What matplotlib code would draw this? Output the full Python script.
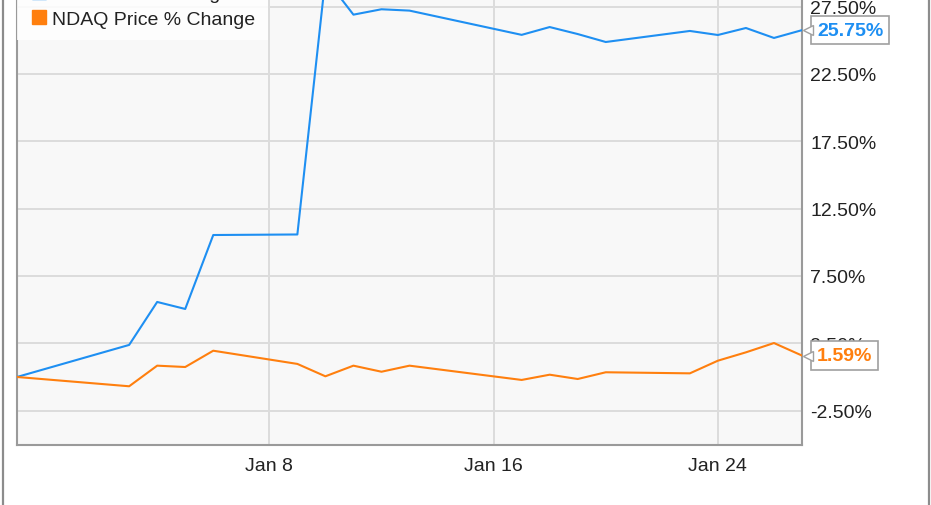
import matplotlib
matplotlib.use("Agg")
import matplotlib.pyplot as plt
import matplotlib.dates as mdates
import matplotlib.transforms as mtransforms
from matplotlib.lines import Line2D
import pandas as pd

plt.rcParams['font.family'] = ['Liberation Sans', 'DejaVu Sans']

dates = ["2016-12-30", "2017-01-03", "2017-01-04", "2017-01-05", "2017-01-06",
         "2017-01-09", "2017-01-10", "2017-01-11", "2017-01-12", "2017-01-13",
         "2017-01-17", "2017-01-18", "2017-01-19", "2017-01-20", "2017-01-23",
         "2017-01-24", "2017-01-25", "2017-01-26", "2017-01-27"]
other_pct = [0.0, 2.38, 5.57, 5.05, 10.54, 10.58, 29.6, 26.9, 27.3, 27.2,
             25.4, 25.98, 25.46, 24.87, 25.69, 25.39, 25.91, 25.17, 25.75]
ndaq_pct = [0.0, -0.69, 0.84, 0.74, 1.95, 0.97, 0.05, 0.84, 0.39, 0.84,
            -0.22, 0.17, -0.15, 0.35, 0.27, 1.21, 1.83, 2.52, 1.59]
series_names = ["ICE Price % Change", "NDAQ Price % Change"]
y_ticks = [-2.5, 2.5, 7.5, 12.5, 17.5, 22.5, 27.5]
x_ticks = ["2017-01-08", "2017-01-16", "2017-01-24"]

blue = '#1e8ff2'
orange = '#ff7f0e'
x = pd.to_datetime(dates)

fig = plt.figure(figsize=(9.31, 5.06), dpi=100)
ax = fig.add_axes([17 / 931, 60 / 506, 785 / 931, 472.1 / 506])
ax.set_facecolor('#f8f8f8')

ax.plot(x, other_pct, color=blue, lw=1.5, zorder=3)
ax.plot(x, ndaq_pct, color=orange, lw=1.5, zorder=3)

ax.set_xlim(x[0], x[-1])
ax.set_ylim(-5.05, 30)
ax.set_yticks(y_ticks)
ax.yaxis.set_major_formatter(plt.FuncFormatter(lambda v, p: '%.2f%%' % v))
ax.set_xticks(pd.to_datetime(x_ticks))
ax.xaxis.set_major_formatter(mdates.DateFormatter('Jan %-d'))
ax.yaxis.tick_right()
ax.tick_params(length=0, labelsize=14, labelcolor='#222222')
ax.tick_params(axis='y', pad=6)
ax.tick_params(axis='x', pad=9)
ax.grid(True, color='#dcdcdc', lw=1.4)
ax.set_axisbelow(True)
for side in ['left', 'bottom', 'right']:
    ax.spines[side].set_color('#9a9a9a')
    ax.spines[side].set_linewidth(1.5)
ax.spines['top'].set_visible(False)

# value callouts at the right edge
for vals, col in [(other_pct, blue), (ndaq_pct, orange)]:
    ax.annotate('%.2f%%' % vals[-1], xy=(x[-1], vals[-1]), xytext=(15, 0),
                textcoords='offset pixels', ha='left', va='center',
                fontsize=14, fontweight='bold', color=col, zorder=6,
                annotation_clip=False,
                bbox=dict(boxstyle='square,pad=0.3', fc='white', ec='#a0a0a0', lw=1.2))
    tr = mtransforms.offset_copy(ax.transData, fig=fig, x=6, y=0, units='dots')
    ax.plot(x[-1], vals[-1], marker='<', ms=7, mfc='white', mec='#a0a0a0',
            mew=1.0, transform=tr, clip_on=False, zorder=7)

handles = [Line2D([], [], marker='s', ls='', color=c, ms=10) for c in (blue, orange)]
leg = ax.legend(handles, series_names, loc='lower left', bbox_to_anchor=(0, 0.858),
                borderaxespad=0, fontsize=14, frameon=True, fancybox=False,
                handletextpad=0.2, labelspacing=0.4, borderpad=0.62, handlelength=1.0)
leg.get_frame().set_facecolor('white')
leg.get_frame().set_alpha(0.85)
leg.get_frame().set_edgecolor('none')
for t in leg.get_texts():
    t.set_color('#222222')

# outer chart frame
fig.add_artist(Line2D([2.5 / 931, 2.5 / 931], [0, 1], color='#8c8c8c', lw=1.6))
fig.add_artist(Line2D([928.5 / 931, 928.5 / 931], [0, 1], color='#8c8c8c', lw=1.6))

fig.savefig('out.png', dpi=100)
